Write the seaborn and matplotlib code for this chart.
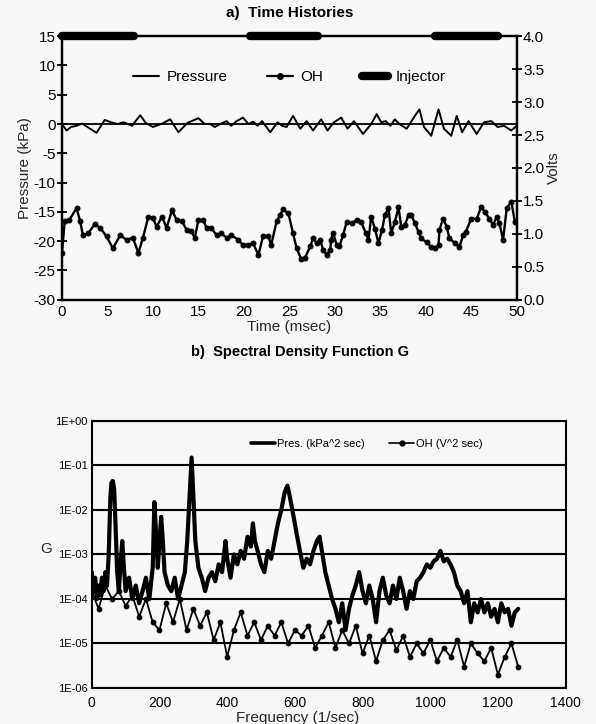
import numpy as np
import pandas as pd
import matplotlib
matplotlib.use('Agg')
import matplotlib.pyplot as plt
from matplotlib.lines import Line2D
from matplotlib.ticker import FixedLocator, FixedFormatter
import seaborn as sns

# ---- a) time histories ----
p_time = [0, 0.5, 1.0, 1.6, 2.2, 2.8, 3.8, 4.7, 5.4, 6.1, 6.8, 7.7, 8.6, 9.2, 10.0, 10.9,
          11.9, 12.8, 13.8, 15.0, 15.7, 16.3, 16.8, 17.4, 18.1, 18.6, 19.2, 19.9, 20.5,
          21.0, 21.5, 22.0, 22.9, 23.7, 24.2, 24.7, 25.4, 26.2, 26.9, 27.6, 28.5, 29.2,
          29.9, 30.7, 31.4, 32.1, 33.1, 34.0, 34.6, 35.1, 35.6, 36.1, 36.6, 37.1, 37.9,
          38.8, 39.3, 39.8, 40.6, 41.4, 42.0, 42.8, 43.4, 44.0, 44.7, 45.6, 46.4, 47.2,
          47.9, 48.6, 49.4, 50.0]
p_kpa = [0, -1.1, -0.5, -0.3, 0.1, -0.5, -1.5, 0.7, 0.3, 0, 0.3, -0.3, 1.5, 0.2, -0.5, 0,
         0.8, -1.4, 0.2, 1.0, 0, 0, -0.5, 0, 0.5, -0.3, 0.5, 1.1, 0, 0.4, -0.3, 0.5, -1.4,
         0.3, -0.3, -0.5, 1.4, -0.8, 0.5, -1.1, 0.8, -1.1, 0.3, 1.1, -0.8, 0.5, -1.7, 0,
         1.7, 0.3, 0.5, -0.3, 0.8, 0, -0.8, 1.4, 2.5, -0.5, -2.0, 2.5, -0.8, -2.0, 1.4,
         -1.4, 0.5, -1.7, 0.3, 0.5, -0.5, -0.3, -1.1, -0.3]

oh_time = [0, 0.3, 0.8, 1.6, 2.0, 2.3, 2.9, 3.6, 4.2, 4.9, 5.6, 6.4, 7.1, 7.8, 8.4, 8.9,
           9.5, 10.0, 10.4, 11.0, 11.5, 12.1, 12.6, 13.2, 13.7, 14.2, 14.6, 15.0, 15.5,
           15.9, 16.4, 17.0, 17.5, 18.1, 18.6, 19.4, 19.9, 20.5, 21.0, 21.6, 22.1, 22.7,
           23.0, 23.6, 24.0, 24.3, 24.9, 25.4, 25.8, 26.3, 26.7, 27.3, 27.6, 28.0, 28.4,
           28.7, 29.1, 29.5, 29.6, 29.8, 30.2, 30.5, 30.9, 31.3, 31.9, 32.4, 32.9, 33.4,
           33.7, 34.0, 34.4, 34.8, 35.2, 35.5, 35.9, 36.2, 36.6, 37.0, 37.3, 37.7, 38.1,
           38.4, 38.8, 39.2, 39.5, 40.1, 40.6, 41.0, 41.4, 41.5, 41.9, 42.3, 42.6, 43.2,
           43.7, 44.1, 44.4, 45.0, 45.6, 46.1, 46.5, 47.0, 47.4, 47.8, 48.1, 48.5, 48.9,
           49.4, 49.8]
oh_volts = [0.71, 1.19, 1.21, 1.39, 1.19, 0.98, 1.01, 1.15, 1.09, 0.96, 0.78, 0.98, 0.91,
            0.94, 0.71, 0.94, 1.26, 1.24, 1.11, 1.26, 1.09, 1.36, 1.21, 1.19, 1.06, 1.04,
            0.94, 1.21, 1.21, 1.09, 1.09, 0.98, 1.01, 0.94, 0.98, 0.91, 0.83, 0.83, 0.86,
            0.68, 0.96, 0.96, 0.83, 1.19, 1.29, 1.37, 1.31, 1.01, 0.78, 0.62, 0.63, 0.81,
            0.93, 0.86, 0.91, 0.76, 0.68, 0.76, 0.91, 1.02, 0.83, 0.81, 0.98, 1.18, 1.16,
            1.21, 1.18, 1.01, 0.91, 1.26, 1.08, 0.86, 1.06, 1.29, 1.39, 1.01, 1.18, 1.40,
            1.11, 1.13, 1.29, 1.29, 1.16, 1.03, 0.93, 0.87, 0.80, 0.78, 0.83, 1.06, 1.23,
            1.11, 0.93, 0.86, 0.80, 0.98, 1.03, 1.23, 1.23, 1.41, 1.33, 1.23, 1.13, 1.26,
            1.16, 0.91, 1.39, 1.49, 1.18]

inj_start = [0.0, 20.7, 41.0]
inj_end = [7.9, 28.2, 47.9]
inj_level = 15

# ---- b) spectral density ----
pres_f = [0, 5, 10, 15, 20, 25, 30, 35, 40, 45, 50, 55, 58, 62, 66, 70, 75, 80, 85, 90,
          95, 100, 110, 120, 130, 140, 150, 160, 170, 180, 185, 190, 195, 200, 205, 210,
          215, 225, 235, 245, 255, 265, 275, 282, 290, 295, 300, 306, 315, 325, 335, 345,
          355, 365, 375, 385, 395, 400, 410, 420, 430, 440, 450, 460, 470, 476, 482, 490,
          500, 510, 520, 530, 540, 550, 560, 570, 578, 585, 595, 605, 615, 625, 635, 645,
          655, 665, 673, 680, 690, 700, 710, 720, 730, 740, 750, 760, 770, 780, 790, 800,
          810, 820, 830, 840, 850, 860, 870, 880, 890, 900, 910, 920, 930, 940, 950, 960,
          970, 980, 990, 1000, 1010, 1020, 1030, 1040, 1050, 1060, 1070, 1080, 1090, 1100,
          1110, 1120, 1130, 1140, 1150, 1160, 1170, 1180, 1190, 1200, 1210, 1220, 1230,
          1240, 1250, 1260]
pres_G = [4e-4, 1.5e-4, 3e-4, 1e-4, 2e-4, 1.2e-4, 3e-4, 1.5e-4, 4e-4, 2e-4, 1e-3, 2e-2,
          4e-2, 4.5e-2, 3e-2, 5e-3, 4e-4, 1.5e-4, 6e-4, 2e-3, 5e-4, 1.5e-4, 3e-4, 1e-4,
          2e-4, 8e-5, 1.5e-4, 3e-4, 1e-4, 5e-4, 1.5e-2, 3e-3, 5e-4, 2e-3, 7e-3, 2e-3,
          4e-4, 2e-4, 1.5e-4, 3e-4, 1e-4, 2e-4, 4e-4, 2e-3, 3e-2, 1.5e-1, 2e-2, 2e-3,
          5e-4, 3e-4, 1.5e-4, 3e-4, 4e-4, 2.5e-4, 6e-4, 4e-4, 2e-3, 8e-4, 3e-4, 1e-3,
          6e-4, 1.2e-3, 8e-4, 2.5e-3, 1.5e-3, 5e-3, 2e-3, 1.2e-3, 6e-4, 4e-4, 1.2e-3,
          8e-4, 2e-3, 5e-3, 1e-2, 2.5e-2, 3.5e-2, 2e-2, 8e-3, 3e-3, 1.2e-3, 5e-4, 8e-4,
          6e-4, 1.2e-3, 2e-3, 2.5e-3, 1.2e-3, 4e-4, 2e-4, 1e-4, 6e-5, 3e-5, 8e-5, 2e-5,
          6e-5, 1.2e-4, 2e-4, 4e-4, 1.5e-4, 8e-5, 2e-4, 1e-4, 3e-5, 1.5e-4, 3e-4, 1.2e-4,
          8e-5, 2e-4, 1e-4, 3e-4, 1.5e-4, 6e-5, 1.5e-4, 1e-4, 2.5e-4, 3e-4, 4e-4, 6e-4,
          5e-4, 7e-4, 8e-4, 1.2e-3, 7e-4, 8e-4, 6e-4, 4e-4, 2e-4, 1.5e-4, 8e-5, 1.5e-4,
          3e-5, 8e-5, 5e-5, 1e-4, 5e-5, 8e-5, 4e-5, 6e-5, 3e-5, 8e-5, 5e-5, 6e-5, 2.5e-5,
          5e-5, 6e-5]

oh_f = [0, 20, 40, 60, 80, 100, 120, 140, 160, 180, 200, 220, 240, 260, 280, 300, 320,
        340, 360, 380, 400, 420, 440, 460, 480, 500, 520, 540, 560, 580, 600, 620, 640,
        660, 680, 700, 720, 740, 760, 780, 800, 820, 840, 860, 880, 900, 920, 940, 960,
        980, 1000, 1020, 1040, 1060, 1080, 1100, 1120, 1140, 1160, 1180, 1200, 1220,
        1240, 1260]
oh_G = [1.5e-4, 6e-5, 2e-4, 1e-4, 1.5e-4, 7e-5, 1.2e-4, 4e-5, 1e-4, 3e-5, 2e-5, 8e-5,
        3e-5, 1e-4, 2e-5, 6e-5, 2.5e-5, 5e-5, 1.2e-5, 3e-5, 5e-6, 2e-5, 5e-5, 1.5e-5,
        3e-5, 1.2e-5, 2.5e-5, 1.5e-5, 3e-5, 1e-5, 2e-5, 1.5e-5, 2.5e-5, 8e-6, 1.5e-5,
        3e-5, 8e-6, 2e-5, 1e-5, 2.5e-5, 6e-6, 1.5e-5, 4e-6, 1.2e-5, 2e-5, 7e-6, 1.5e-5,
        5e-6, 1e-5, 6e-6, 1.2e-5, 4e-6, 8e-6, 5e-6, 1.2e-5, 3e-6, 1e-5, 6e-6, 4e-6,
        8e-6, 2e-6, 5e-6, 1e-5, 3e-6]

decade_ticks = [1e-6, 1e-5, 1e-4, 1e-3, 1e-2, 1e-1, 1e0]
decade_labels = ['1E-06', '1E-05', '1E-04', '1E-03', '1E-02', '1E-01', '1E+00']

sns.set_theme(style='white')
plt.rcParams['font.family'] = ['Liberation Sans', 'DejaVu Sans']
plt.rcParams['axes.unicode_minus'] = False
plt.rcParams['axes.edgecolor'] = 'black'
plt.rcParams['xtick.color'] = 'black'
plt.rcParams['ytick.color'] = 'black'
plt.rcParams['text.color'] = 'black'

bg = '#f7f7f7'
fig = plt.figure(figsize=(5.96, 7.24), dpi=100, facecolor=bg)

# ---------- top panel ----------
ax1 = fig.add_axes([0.104, 0.586, 0.763, 0.364], facecolor=bg)
ax1r = ax1.twinx()

ax1.axhline(0, color='black', lw=1.3, zorder=1)
sns.lineplot(x=p_time, y=p_kpa, ax=ax1, color='black', lw=1.4, zorder=3)
sns.lineplot(x=oh_time, y=oh_volts, ax=ax1r, color='black', lw=1.7,
             marker='o', markersize=3.5, markeredgecolor='black', zorder=3)
for s, e in zip(inj_start, inj_end):
    sns.lineplot(x=[s, e], y=[inj_level, inj_level], ax=ax1, color='black', lw=6,
                 solid_capstyle='round', clip_on=False, zorder=4)

ax1.set_xlim(0, 50)
ax1.set_ylim(-30, 15)
ax1r.set_ylim(0, 4)
ax1.set_xticks(range(0, 51, 5))
ax1.set_yticks(range(-30, 16, 5))
ax1r.set_yticks(np.arange(0, 4.01, 0.5))
ax1r.set_yticklabels([f'{v:.1f}' for v in np.arange(0, 4.01, 0.5)])
for a in (ax1, ax1r):
    a.tick_params(direction='inout', length=7, width=1.3, labelsize=11, pad=1)
    for sp in a.spines.values():
        sp.set_linewidth(1.6)
ax1.tick_params(axis='x', pad=0)
ax1.set_xlabel('Time (msec)', fontsize=11, labelpad=1)
ax1.set_ylabel('Pressure (kPa)', fontsize=11, labelpad=1)
ax1r.set_ylabel('Volts', fontsize=11, labelpad=2)
ax1.set_title('a)  Time Histories', fontsize=11, fontweight='bold', pad=14)

handles = [Line2D([], [], color='black', lw=1.5),
           Line2D([], [], color='black', lw=1.6, marker='o', markersize=4),
           Line2D([], [], color='black', lw=6, solid_capstyle='round')]
ax1.legend(handles, ['Pressure', 'OH', 'Injector'], loc='center',
           bbox_to_anchor=(0.5, 0.845), ncol=3, frameon=False, fontsize=11,
           handlelength=1.7, handletextpad=0.45, columnspacing=2.6)

# ---------- bottom panel ----------
fig.text(0.503, 0.514, 'b)  Spectral Density Function G', ha='center', va='center',
         fontsize=10.5, fontweight='bold')

ax2 = fig.add_axes([0.154, 0.0497, 0.795, 0.369], facecolor=bg)
ax2.set_yscale('log')
sns.lineplot(x=pres_f, y=pres_G, ax=ax2, color='black', lw=3.0, zorder=3)
sns.lineplot(x=oh_f, y=oh_G, ax=ax2, color='black', lw=1.3, marker='o',
             markersize=3.4, markeredgecolor='black', zorder=3)
ax2.set_xlim(0, 1400)
ax2.set_ylim(1e-6, 1)
ax2.yaxis.set_major_locator(FixedLocator(decade_ticks))
ax2.yaxis.set_major_formatter(FixedFormatter(decade_labels))
ax2.yaxis.set_minor_locator(FixedLocator([]))
ax2.set_xticks(range(0, 1401, 200))
ax2.grid(axis='y', color='black', lw=1.5)
ax2.tick_params(axis='y', length=0, labelsize=8, pad=3)
ax2.tick_params(axis='x', direction='inout', length=7, width=1.3, labelsize=10, pad=2)
for sp in ax2.spines.values():
    sp.set_linewidth(1.5)
ax2.set_xlabel('Frequency (1/sec)', fontsize=11, labelpad=0)
ax2.xaxis.set_label_coords(0.435, -0.085)
ax2.set_ylabel('G', fontsize=11, rotation=0, va='center', ha='right')
ax2.yaxis.set_label_coords(-0.085, 0.52)

handles2 = [Line2D([], [], color='black', lw=2.6),
            Line2D([], [], color='black', lw=1.2, marker='o', markersize=3.5)]
ax2.legend(handles2, ['Pres. (kPa^2 sec)', 'OH (V^2 sec)'], loc='center',
           bbox_to_anchor=(0.58, 0.915), ncol=2, frameon=False, fontsize=8,
           handlelength=2.2, handletextpad=0.2, columnspacing=2.2)

fig.savefig('out.png', dpi=100, facecolor=bg)
